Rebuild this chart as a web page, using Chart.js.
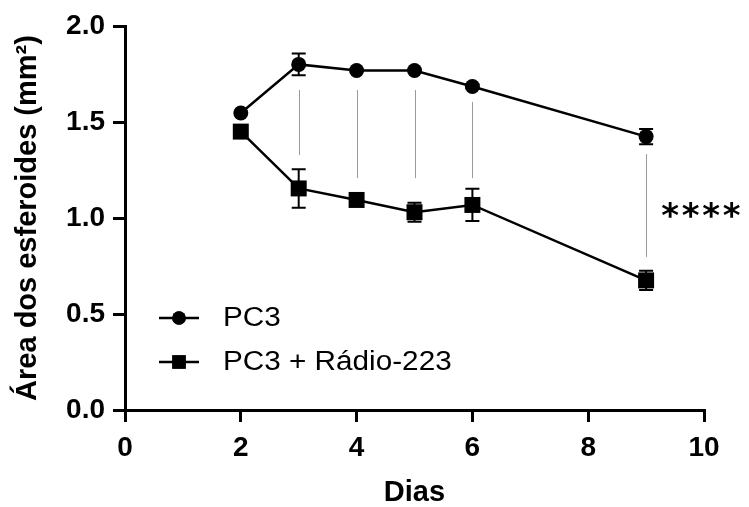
<!DOCTYPE html>
<html>
<head>
<meta charset="utf-8">
<script src="https://cdn.jsdelivr.net/npm/chart.js@4"></script>
<style>
  html, body { margin: 0; padding: 0; background: #fff; }
  #wrap { width: 749px; height: 507px; }
</style>
</head>
<body>
<div id="wrap"><canvas id="chart"></canvas></div>
<script>
// values
const days = [2, 3, 4, 5, 6, 9];
const pc3Mean = [1.547, 1.80, 1.768, 1.768, 1.685, 1.424];
const pc3Err = [0, 0.057, 0, 0, 0.01, 0.04];
const radMean = [1.45, 1.154, 1.094, 1.03, 1.068, 0.675];
const radErr = [0, 0.10, 0, 0.05, 0.084, 0.05];

// thin comparison lines between the groups
const sigDays = [3, 4, 5, 6, 9];
const sigTop = [1.667, 1.667, 1.667, 1.604, 1.333];
const sigBottom = [1.328, 1.208, 1.208, 1.208, 0.797];
const sigLabel = "****";

const seriesLabels = ["PC3", "PC3 + Rádio-223"];
const xTitle = "Dias";
const yTitle = "Área dos esferoides (mm²)";

const FONT = "'Liberation Sans', Arial, sans-serif";

function toPoints(xs, ys) {
  return xs.map((x, i) => ({ x, y: ys[i] }));
}

// error bars + comparison lines + asterisks + legend
const extrasPlugin = {
  id: "extras",
  afterDatasetsDraw(chart) {
    const { ctx, scales } = chart;
    const x = scales.x, y = scales.y;
    ctx.save();

    // comparison lines
    ctx.strokeStyle = "#9a9a9a";
    ctx.lineWidth = 1;
    sigDays.forEach((d, i) => {
      const px = Math.round(x.getPixelForValue(d)) + 0.5;
      ctx.beginPath();
      ctx.moveTo(px, y.getPixelForValue(sigTop[i]));
      ctx.lineTo(px, y.getPixelForValue(sigBottom[i]));
      ctx.stroke();
    });

    // error bars
    ctx.strokeStyle = "#000";
    ctx.lineWidth = 2;
    const drawErr = (means, errs) => {
      days.forEach((d, i) => {
        if (!errs[i]) return;
        const px = x.getPixelForValue(d);
        const top = y.getPixelForValue(means[i] + errs[i]);
        const bot = y.getPixelForValue(means[i] - errs[i]);
        ctx.beginPath();
        ctx.moveTo(px, top); ctx.lineTo(px, bot);
        ctx.moveTo(px - 7, top); ctx.lineTo(px + 7, top);
        ctx.moveTo(px - 7, bot); ctx.lineTo(px + 7, bot);
        ctx.stroke();
      });
    };
    drawErr(pc3Mean, pc3Err);
    drawErr(radMean, radErr);

    // asterisks next to the last comparison
    const last = sigDays.length - 1;
    ctx.fillStyle = "#000";
    ctx.font = "bold 34px 'DejaVu Sans', sans-serif";
    ctx.textAlign = "center";
    ctx.textBaseline = "middle";
    const ax = x.getPixelForValue(sigDays[last]) + 24;
    const ay = y.getPixelForValue((sigTop[last] + sigBottom[last]) / 2) + 13;
    sigLabel.split("").forEach((c, k) => ctx.fillText(c, ax + k * 20.5, ay));

    // legend inside the plot
    const styles = ["circle", "rect"];
    const radii = [6.8, 9.5];
    ctx.textAlign = "left";
    chart.data.datasets.forEach((ds, i) => {
      const lx = x.getPixelForValue(0) + 54;
      const ly = y.getPixelForValue(0) - 92 + i * 44;
      ctx.strokeStyle = "#000";
      ctx.lineWidth = 2.5;
      ctx.beginPath();
      ctx.moveTo(lx - 20, ly); ctx.lineTo(lx + 20, ly);
      ctx.stroke();
      Chart.helpers.drawPoint(ctx, { pointStyle: styles[i], radius: radii[i], borderWidth: 0 }, lx, ly);
      ctx.fill();
      ctx.save();
      ctx.translate(lx + 44, ly + 1);
      ctx.scale(1.1, 1);
      ctx.font = "27px " + FONT;
      ctx.textBaseline = "middle";
      ctx.fillText(ds.label, 0, 0);
      ctx.restore();
    });

    ctx.restore();
  }
};

const axisCommon = {
  type: "linear",
  border: { display: true, color: "#000", width: 3 },
  grid: { display: true, drawOnChartArea: false, drawTicks: true, tickLength: 12, color: "#000", lineWidth: 3 },
  ticks: { color: "#000", font: { family: FONT, size: 28, weight: "bold" } },
  title: { display: true, color: "#000", font: { family: FONT, size: 29, weight: "bold", lineHeight: 1 } }
};

new Chart(document.getElementById("chart"), {
  type: "line",
  data: {
    datasets: [
      {
        label: seriesLabels[0],
        data: toPoints(days, pc3Mean),
        borderColor: "#000",
        backgroundColor: "#000",
        borderWidth: 2.5,
        pointStyle: "circle",
        pointRadius: 7.5,
        pointBorderWidth: 0
      },
      {
        label: seriesLabels[1],
        data: toPoints(days, radMean),
        borderColor: "#000",
        backgroundColor: "#000",
        borderWidth: 2.5,
        pointStyle: "rect",
        pointRadius: 11.3,
        pointBorderWidth: 0
      }
    ]
  },
  options: {
    responsive: true,
    maintainAspectRatio: false,
    animation: false,
    layout: { padding: { top: 26, right: 45, left: 0, bottom: 0 } },
    plugins: { legend: { display: false }, tooltip: { enabled: false } },
    scales: {
      x: {
        ...axisCommon,
        min: 0, max: 10,
        afterFit: s => { s.height = 97; },
        ticks: { ...axisCommon.ticks, stepSize: 2, padding: 9 },
        title: { ...axisCommon.title, text: xTitle, padding: { top: 0, bottom: 0 } }
      },
      y: {
        ...axisCommon,
        min: 0, max: 2,
        afterFit: s => { s.width = 125; },
        ticks: { ...axisCommon.ticks, stepSize: 0.5, padding: 8, callback: v => v.toFixed(1) },
        title: { ...axisCommon.title, text: yTitle, padding: { top: 13, bottom: 0 } }
      }
    }
  },
  plugins: [extrasPlugin]
});
</script>
</body>
</html>
